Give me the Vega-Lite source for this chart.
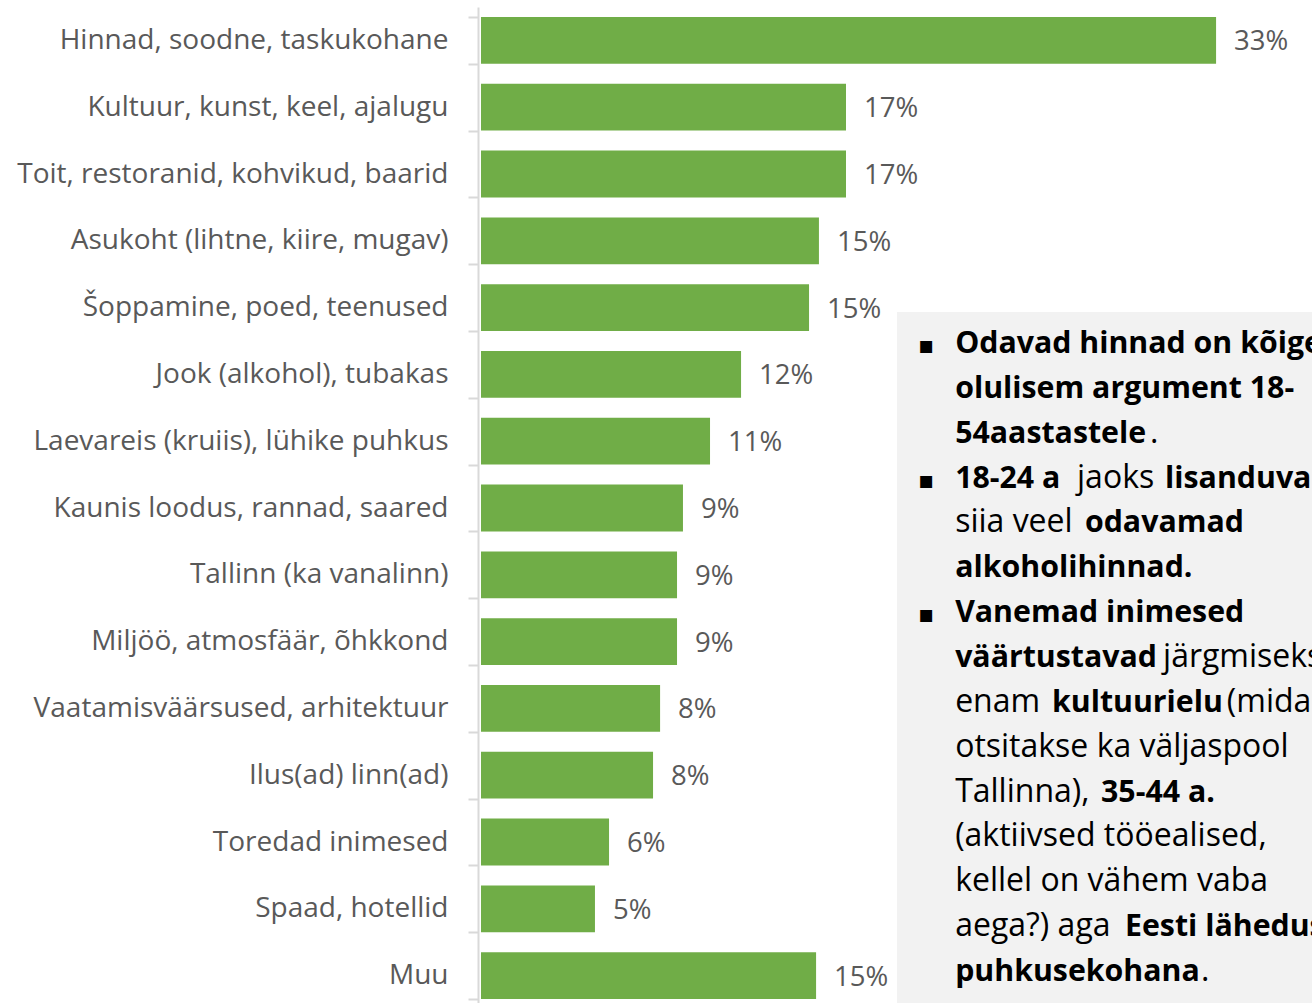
{
  "$schema": "https://vega.github.io/schema/vega-lite/v6.json",
  "width": 834,
  "height": 1002,
  "autosize": {"type": "none"},
  "padding": {"left": 478, "top": 7, "right": 0, "bottom": 0},
  "background": "white",
  "config": {"view": {"stroke": null}, "font": "Open Sans"},
  "datasets": {
    "reasons": [
      {"category": "Hinnad, soodne, taskukohane", "value": 33.41, "label": "33%"},
      {"category": "Kultuur, kunst, keel, ajalugu", "value": 16.59, "label": "17%"},
      {"category": "Toit, restoranid, kohvikud, baarid", "value": 16.59, "label": "17%"},
      {"category": "Asukoht (lihtne, kiire, mugav)", "value": 15.36, "label": "15%"},
      {"category": "Šoppamine, poed, teenused", "value": 14.91, "label": "15%"},
      {"category": "Jook (alkohol), tubakas", "value": 11.82, "label": "12%"},
      {"category": "Laevareis (kruiis), lühike puhkus", "value": 10.41, "label": "11%"},
      {"category": "Kaunis loodus, rannad, saared", "value": 9.18, "label": "9%"},
      {"category": "Tallinn (ka vanalinn)", "value": 8.91, "label": "9%"},
      {"category": "Miljöö, atmosfäär, õhkkond", "value": 8.91, "label": "9%"},
      {"category": "Vaatamisväärsused, arhitektuur", "value": 8.14, "label": "8%"},
      {"category": "Ilus(ad) linn(ad)", "value": 7.82, "label": "8%"},
      {"category": "Toredad inimesed", "value": 5.82, "label": "6%"},
      {"category": "Spaad, hotellid", "value": 5.18, "label": "5%"},
      {"category": "Muu", "value": 15.23, "label": "15%"}
    ],
    "note": [
      {"line": 1, "pos": 21.55, "text": "Odavad hinnad on kõige", "bold": true},
      {"line": 2, "pos": 21.55, "text": "olulisem argument 18-", "bold": true},
      {"line": 3, "pos": 21.55, "text": "54aastastele", "bold": true},
      {"line": 3, "pos": 30.41, "text": ".", "bold": false},
      {"line": 4, "pos": 21.55, "text": "18-24 a", "bold": true},
      {"line": 4, "pos": 27.09, "text": "jaoks", "bold": false},
      {"line": 4, "pos": 31.09, "text": "lisanduvad", "bold": true},
      {"line": 5, "pos": 21.55, "text": "siia veel", "bold": false},
      {"line": 5, "pos": 27.45, "text": "odavamad", "bold": true},
      {"line": 6, "pos": 21.55, "text": "alkoholihinnad.", "bold": true},
      {"line": 7, "pos": 21.55, "text": "Vanemad inimesed", "bold": true},
      {"line": 8, "pos": 21.55, "text": "väärtustavad", "bold": true},
      {"line": 8, "pos": 31.0, "text": "järgmiseks", "bold": false},
      {"line": 9, "pos": 21.55, "text": "enam", "bold": false},
      {"line": 9, "pos": 25.95, "text": "kultuurielu", "bold": true},
      {"line": 9, "pos": 33.9, "text": "(mida", "bold": false},
      {"line": 10, "pos": 21.55, "text": "otsitakse ka väljaspool", "bold": false},
      {"line": 11, "pos": 21.55, "text": "Tallinna),", "bold": false},
      {"line": 11, "pos": 28.18, "text": "35-44 a.", "bold": true},
      {"line": 12, "pos": 21.55, "text": "(aktiivsed tööealised,", "bold": false},
      {"line": 13, "pos": 21.55, "text": "kellel on vähem vaba", "bold": false},
      {"line": 14, "pos": 21.55, "text": "aega?) aga", "bold": false},
      {"line": 14, "pos": 29.27, "text": "Eesti lähedus", "bold": true},
      {"line": 15, "pos": 21.55, "text": "puhkusekohana", "bold": true},
      {"line": 15, "pos": 32.73, "text": ".", "bold": false}
    ],
    "bullets": [{"line": 1}, {"line": 4}, {"line": 7}]
  },
  "layer": [
    {
      "data": {"name": "reasons"},
      "encoding": {
        "y": {
          "field": "category",
          "type": "nominal",
          "sort": null,
          "scale": {"paddingInner": 0.3, "paddingOuter": 0.15},
          "axis": {
            "title": null,
            "tickBand": "extent",
            "domainColor": "#d9d9d9",
            "domainWidth": 2,
            "tickColor": "#d9d9d9",
            "tickWidth": 2,
            "tickSize": 10,
            "labelPadding": 20,
            "labelFontSize": 28,
            "labelColor": "#595959",
            "labelFont": "Open Sans",
            "labelLimit": 0
          }
        },
        "x": {
          "field": "value",
          "type": "quantitative",
          "scale": {"domain": [-0.136, 37.77], "nice": false, "zero": false},
          "axis": null
        }
      },
      "layer": [
        {"mark": {"type": "bar", "color": "#70ad47"}},
        {
          "mark": {"type": "text", "align": "left", "baseline": "middle", "dx": 18, "dy": 2, "fontSize": 27.5, "color": "#595959"},
          "encoding": {"text": {"field": "label"}}
        }
      ]
    },
    {
      "layer": [
        {
          "data": {"values": [{}]},
          "mark": {"type": "rect", "color": "#f2f2f2"},
          "encoding": {
            "x": {"datum": 18.91, "type": "quantitative"},
            "x2": {"datum": 38},
            "y": {
              "datum": 0.086,
              "type": "quantitative",
              "scale": {"domain": [-6.713, 15.625], "reverse": true, "nice": false, "zero": false},
              "axis": null
            },
            "y2": {"datum": 16}
          }
        },
        {
          "data": {"name": "bullets"},
          "mark": {"type": "text", "text": "▪", "font": "DejaVu Sans", "fontSize": 24, "align": "center", "baseline": "alphabetic", "color": "black"},
          "encoding": {
            "x": {"datum": 20.23, "type": "quantitative"},
            "y": {"field": "line", "type": "quantitative"}
          }
        },
        {
          "data": {"name": "note"},
          "transform": [{"filter": "datum.bold"}],
          "mark": {"type": "text", "align": "left", "baseline": "alphabetic", "fontSize": 30.3, "fontWeight": "bold", "color": "black"},
          "encoding": {
            "x": {"field": "pos", "type": "quantitative"},
            "y": {"field": "line", "type": "quantitative"},
            "text": {"field": "text"}
          }
        },
        {
          "data": {"name": "note"},
          "transform": [{"filter": "!datum.bold"}],
          "mark": {"type": "text", "align": "left", "baseline": "alphabetic", "fontSize": 32, "color": "black"},
          "encoding": {
            "x": {"field": "pos", "type": "quantitative"},
            "y": {"field": "line", "type": "quantitative"},
            "text": {"field": "text"}
          }
        }
      ]
    }
  ],
  "resolve": {"scale": {"y": "independent"}}
}
